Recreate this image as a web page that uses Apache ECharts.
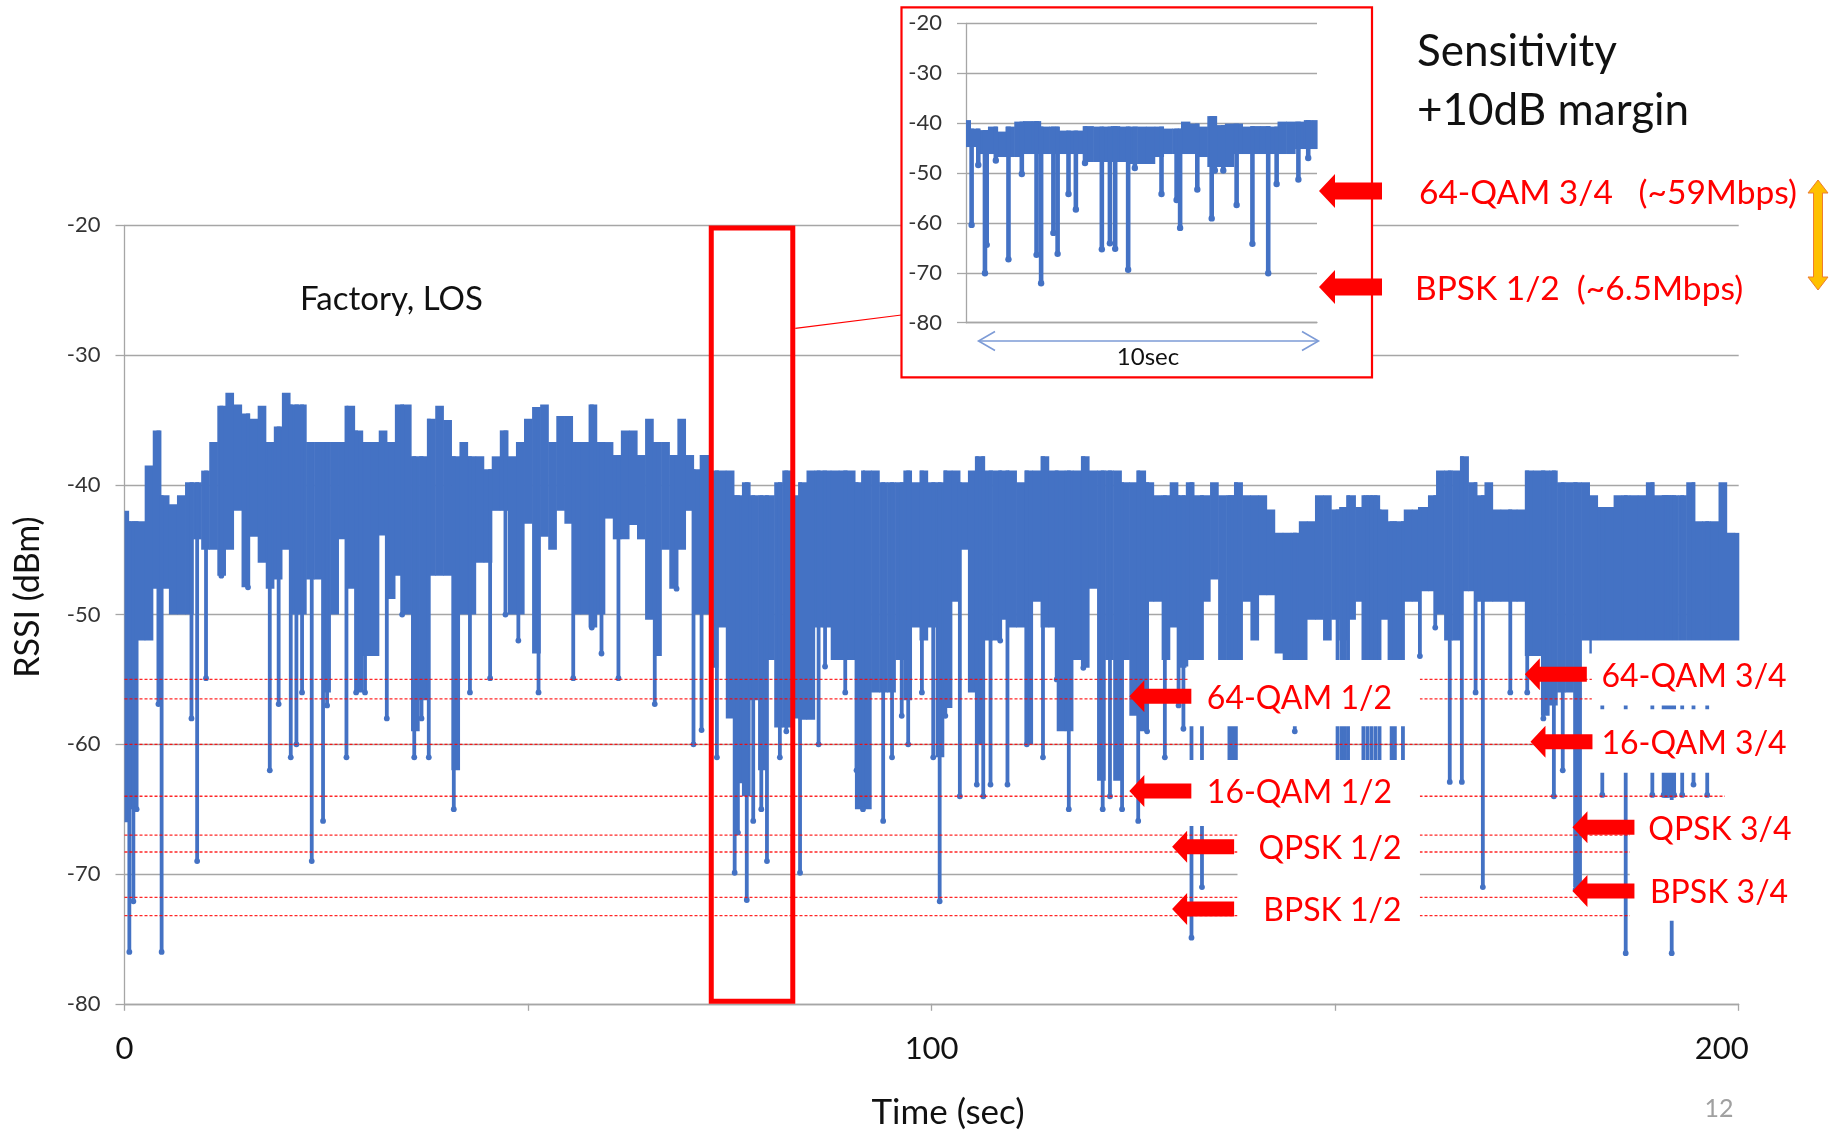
<!DOCTYPE html>
<html>
<head>
<meta charset="utf-8">
<script src="https://cdn.jsdelivr.net/npm/echarts@6/dist/echarts.min.js"></script>
<style>html,body{margin:0;padding:0;background:#fff}#c{width:1841px;height:1133px}</style>
</head>
<body>
<div id="c"></div>
<script>
// ---------------- data ----------------
const yTicks = [-80, -70, -60, -50, -40, -30, -20];
const xTickLabels = [0, 100, 200];

// main RSSI trace, 1-second bins (t = 0..200): upper edge of the dense trace
const mainTop = [
-42,-42.8,-42.8,-38.5,-35.8,-40.8,-41.5,-40.8,-39.8,-39.8,
-38.9,-36.7,-33.9,-32.9,-33.8,-34.5,-34.9,-33.9,-36.7,-35.5,
-32.9,-33.8,-33.8,-36.7,-36.7,-36.7,-36.7,-36.7,-33.9,-35.8,
-36.7,-36.7,-35.8,-36.7,-33.8,-33.8,-37.8,-37.8,-34.9,-33.9,
-35,-37.8,-36.7,-37.8,-37.8,-38.8,-37.8,-35.8,-37.8,-36.7,
-34.9,-34,-33.8,-36.7,-34.7,-34.7,-36.7,-36.7,-33.8,-36.7,
-36.7,-37.7,-35.8,-35.8,-37.7,-34.9,-36.7,-36.7,-37.7,-34.9,
-37.7,-38.8,-37.7,-38.9,-38.9,-38.9,-40.8,-39.8,-40.8,-40.8,
-40.8,-39.8,-38.9,-40.8,-39.8,-38.9,-38.9,-38.9,-38.9,-38.9,
-38.9,-39.8,-38.9,-38.9,-39.8,-39.8,-39.8,-38.9,-39.8,-38.9,
-39.8,-39.8,-38.9,-38.9,-39.8,-38.9,-37.8,-38.9,-38.9,-38.9,
-38.9,-39.8,-38.9,-38.9,-37.8,-38.9,-38.9,-38.9,-38.9,-37.8,
-38.9,-38.9,-38.9,-38.9,-39.8,-39.8,-38.9,-39.8,-40.8,-40.8,
-39.8,-40.8,-39.8,-40.8,-40.8,-39.8,-40.8,-40.8,-39.8,-40.8,
-40.8,-40.8,-41.9,-43.7,-43.7,-43.7,-42.8,-42.8,-40.8,-40.8,
-41.9,-41.7,-40.8,-41.7,-40.8,-40.8,-41.9,-42.8,-42.8,-41.9,
-41.9,-41.7,-40.8,-38.9,-38.9,-38.9,-37.8,-39.8,-40.8,-39.8,
-41.9,-41.9,-41.9,-41.9,-38.9,-38.9,-38.9,-38.9,-39.8,-39.8,
-39.8,-39.8,-40.8,-41.7,-41.7,-40.8,-40.8,-40.8,-40.8,-39.8,
-40.8,-40.8,-40.8,-40.8,-39.8,-42.8,-42.8,-42.8,-39.8,-43.7,
-43.7
];
// lower edge of the dense (solid) part of the trace, same bins
const mainBottom = [
-66,-65,-52,-52,-48,-48,-50,-50,-50,-44.2,
-45,-45,-47,-45,-42,-47.9,-44,-46,-48,-47.3,
-45,-50,-50,-47.3,-47.3,-56,-50,-44.2,-48,-56,
-53.2,-53.2,-43.9,-48.8,-47,-50,-59,-56.6,-47,-47,
-47,-62,-50,-50,-46,-46,-42,-42,-50,-50,
-43,-53,-44,-45,-42,-43,-50,-50,-51,-50,
-42.6,-44.2,-44.2,-43.1,-44.2,-50.4,-53.2,-45,-48,-45,
-42,-50,-50,-54.1,-51,-58,-63,-64,-56.6,-62,
-53.5,-58.7,-58.7,-58,-58.1,-58.1,-51,-51,-53.5,-53.5,
-53.5,-65,-65,-56,-56,-56,-53.5,-56.6,-51,-52,
-51,-61,-57.2,-49,-45,-56,-60,-52,-52,-50.4,
-51,-51,-60,-49,-51,-51,-59,-59,-53.5,-54.1,
-48,-62.8,-53.5,-62.8,-53.5,-57.8,-59,-49,-49,-53.5,
-51,-54.1,-54,-54,-49,-47.3,-54,-54,-54,-49,
-52,-48.5,-48.5,-53,-54,-54,-54,-50.4,-50.4,-52,
-50.4,-52,-50.4,-49,-54,-54,-50.4,-54,-54,-49,
-49,-48.2,-48.2,-50,-52,-52,-48.2,-48.2,-49,-49,
-49,-49,-49,-49,-53.2,-53.2,-57.8,-57,-56,-56,
-71,-52,-53,-53,-53,-53,-53,-53,-53,-53,
-53,-53,-53,-53,-53,-53,-53,-53,-53,-53,
-53
];
// individual deep drops of the main trace: [time (s), RSSI (dBm)]
const mainDips = [
[0.6,-76],[1.1,-72.1],[1.5,-65],[4.2,-56.9],[4.6,-76],[8.3,-58],[9.0,-69],[10.1,-54.9],[12.0,-47],[15.3,-47.9],
[18.0,-62],[19.1,-56.9],[20.6,-61],[21.3,-60],[22.0,-56],[23.2,-69],[24.6,-65.9],[25.1,-57],[27.5,-61],[28.7,-56],
[29.8,-56],[32.5,-58],[34.4,-50],[35.9,-61],[36.8,-58],[37.7,-61],[40.8,-65],[42.8,-56],[45.3,-54.9],[47.2,-50],
[48.8,-52],[51.3,-56],[55.6,-54.9],[57.9,-51],[59.1,-53],[61.2,-54.9],[65.7,-56.9],[68.4,-48],[70.5,-60],[71.5,-58.9],
[73.4,-61],[75.6,-69.9],[76.0,-66.8],[77.1,-72],[77.9,-65.9],[78.9,-65],[79.6,-69],[81.2,-61],[82.0,-59],[83.7,-69.9],
[86.0,-60],[86.8,-54],[89.3,-56],[90.7,-62],[91.5,-65],[94.0,-65.9],[95.1,-61],[96.3,-57.8],[97.1,-60],[98.8,-56],
[100.2,-61],[101.0,-72.1],[101.7,-57.8],[103.5,-64],[105.6,-63.1],[106.4,-64],[107.3,-63.1],[108.5,-52],[109.4,-63.1],[111.8,-60],
[113.8,-61],[115.5,-55],[117.0,-65],[118.8,-54.1],[121.2,-65],[122.1,-64],[123.6,-65],[125.6,-65.9],[126.7,-59],[128.9,-61],
[130.6,-57],[131.2,-58.8],[132.2,-74.9],[133.5,-71],[136.9,-61.5],[137.3,-61.5],[137.7,-61.5],[145.0,-59],[150.3,-61.5],[150.8,-61.5],
[151.2,-61.5],[151.6,-61.5],[153.5,-61.5],[154.0,-61.5],[154.5,-61.5],[155.0,-61.5],[155.5,-61.5],[157.0,-61.5],[157.4,-61.5],[158.4,-61.5],
[160.5,-53.2],[162.4,-51],[164.2,-62.9],[165.7,-62.9],[167.4,-56],[168.3,-71],[171.7,-56],[173.8,-56],[175.8,-58],[177.1,-64],
[178.2,-62],[179.8,-71.2],[183.1,-63.9],[186.0,-76.1],[189.3,-63.9],[190.7,-63.9],[190.9,-63.9],[191.1,-63.9],[191.3,-63.9],[191.7,-76.1],
[192.0,-63.9],[193.0,-63.9],[194.4,-63.1],[196.1,-63.9]
];

// inset (10 s excerpt), 0.25-second bins (t = 0..10)
const insetTop = [
-39.4,-41.1,-41.4,-40.7,-41.7,-40.7,-39.7,-39.6,-39.6,-40.7,
-40.7,-41.5,-41.5,-41.5,-40.6,-40.7,-40.7,-40.6,-40.7,-40.7,
-40.7,-40.7,-40.7,-41.1,-41.1,-39.7,-40.1,-40.7,-38.6,-40.4,
-40.1,-40.1,-40.7,-40.6,-40.6,-40.7,-39.7,-39.7,-39.7,-39.4,
-39.4
];
const insetBottom = [
-44.8,-44.8,-46.2,-46.2,-46.8,-46.8,-46.8,-46.2,-46.2,-46.2,
-46.2,-46.2,-46.2,-46.2,-47.8,-47.8,-47.8,-47.8,-47.8,-48.2,
-48.2,-48.2,-46.8,-46.2,-46.2,-46.2,-46.2,-46.8,-48.8,-48.8,
-48.8,-46.2,-46.2,-46.2,-46.2,-46.2,-46.2,-46.2,-45.2,-45.2,
-45.2
];
const insetDips = [
[0.16,-60.4],[0.35,-48.4],[0.54,-70.1],[0.59,-64.4],[0.85,-47.5],[1.21,-67.3],[1.59,-50.2],[2.01,-66.4],[2.14,-72.1],[2.49,-62],
[2.61,-66.2],[2.92,-54.2],[3.13,-57.3],[3.39,-48],[3.87,-65.3],[4.10,-64.1],[4.25,-65.2],[4.62,-69.4],[4.81,-49],[5.57,-54.2],
[6.00,-55.4],[6.10,-61],[6.59,-53.3],[7.00,-59.1],[7.09,-49.5],[7.33,-49.5],[7.71,-56.4],[8.16,-64.2],[8.61,-70.1],[8.85,-52.2],
[9.47,-51.3],[9.75,-47]
];

// sensitivity + 10 dB margin levels (dBm)
const sensLevels = [-55, -56.5, -60, -64, -67, -68.3, -71.8, -73.2];
const sensEnd = 198.3;

// ---------------- layout of annotations (not data) ----------------
const rateNotes = [
  { text: '64-QAM 1/2', tip: [124.5, -56.3], textT: 134.1 },
  { text: '16-QAM 1/2', tip: [124.5, -63.6], textT: 134.1 },
  { text: 'QPSK 1/2',   tip: [129.8, -67.9], textT: 140.5 },
  { text: 'BPSK 1/2',   tip: [129.8, -72.7], textT: 141.1 },
  { text: '64-QAM 3/4', tip: [173.5, -54.6], textT: 183.0 },
  { text: '16-QAM 3/4', tip: [174.2, -59.8], textT: 183.0 },
  { text: 'QPSK 3/4',   tip: [179.4, -66.4], textT: 188.8 },
  { text: 'BPSK 3/4',   tip: [179.4, -71.3], textT: 189.0 }
];
const maskBoxes = [
  [[131.8, -53.5], [160.5, -58.6]],
  [[131.8, -61.2], [160.5, -66.3]],
  [[137.9, -66.3], [160.5, -76.5]],
  [[181.8, -52.0], [206, -57.0]],
  [[181.8, -57.3], [206, -62.2]],
  [[186.5, -64.3], [206, -73.6]]
];

// ---------------- chart ----------------
const FONT = 'Lato, "Open Sans", "DejaVu Sans", sans-serif';
const BLUE = '#4472C4', RED = '#FF0000', GRIDC = '#A6A6A6';

const bandData = mainTop.map((v, i) => [i, v, mainBottom[i]]);
const dipData = mainDips.map(([t, v]) => [t, v, mainTop[Math.round(t)]]);
const insetBandData = insetTop.map((v, i) => [i * 0.25, v, insetBottom[i]]);
const insetDipData = insetDips.map(([t, v]) => [t, v, insetTop[Math.round(t / 0.25)]]);
const sensData = sensLevels.map(v => [0, sensEnd, v]);

function bandRender(step, xmin, xmax) {
  return function (params, api) {
    const t = api.value(0), hi = api.value(1), lo = api.value(2);
    const a = api.coord([Math.max(xmin, t - step / 2), hi]);
    const b = api.coord([Math.min(xmax, t + step / 2), lo]);
    return { type: 'rect', shape: { x: a[0], y: a[1], width: b[0] - a[0] + 0.6, height: b[1] - a[1] },
             style: { fill: BLUE } };
  };
}
function dipRender(lw, r) {
  return function (params, api) {
    const t = api.value(0), v = api.value(1), from = api.value(2);
    const a = api.coord([t, from]), b = api.coord([t, v]);
    return { type: 'group', children: [
      { type: 'line', shape: { x1: a[0], y1: a[1], x2: b[0], y2: b[1] }, style: { stroke: BLUE, lineWidth: lw } },
      { type: 'circle', shape: { cx: b[0], cy: b[1], r: r }, style: { fill: BLUE } }
    ]};
  };
}
function sensRender(params, api) {
  const a = api.coord([api.value(0), api.value(2)]);
  const b = api.coord([api.value(1), api.value(2)]);
  return { type: 'line', shape: { x1: a[0], y1: a[1], x2: b[0], y2: b[1] },
           style: { stroke: 'rgba(255,0,0,0.85)', lineWidth: 1.3, lineDash: [3, 2] } };
}

const chart = echarts.init(document.getElementById('c'));
const axisLabelY = { fontSize: 22, color: '#333', fontFamily: FONT, margin: 24 };
chart.setOption({
  animation: false,
  backgroundColor: '#fff',
  grid: [
    { left: 124.5, top: 225.4, width: 1614.2, height: 778.4 },
    { left: 966, top: 23.3, width: 351, height: 299.4 }
  ],
  xAxis: [
    { gridIndex: 0, type: 'value', min: 0, max: 200, interval: 50,
      axisLine: { lineStyle: { color: GRIDC, width: 1.3 } },
      axisTick: { show: true, length: 7, lineStyle: { color: GRIDC, width: 1.3 } },
      splitLine: { show: false },
      axisLabel: {
        formatter: v => !xTickLabels.includes(v) ? '' : (v === 200 ? '{r|200}' : String(v)),
        rich: { r: { fontSize: 31, color: '#111', fontFamily: FONT, padding: [0, 34, 0, 0] } },
        fontSize: 31, color: '#111', fontFamily: FONT, margin: 30 } },
    { gridIndex: 1, type: 'value', min: 0, max: 10, z: 3,
      axisLine: { lineStyle: { color: GRIDC, width: 1.3 } },
      axisTick: { show: false }, axisLabel: { show: false }, splitLine: { show: false } }
  ],
  yAxis: [
    { gridIndex: 0, type: 'value', min: yTicks[0], max: yTicks[yTicks.length - 1], interval: 10,
      axisLine: { show: true, lineStyle: { color: GRIDC, width: 1.3 } },
      axisTick: { show: true, length: 9, lineStyle: { color: GRIDC, width: 1.3 } },
      splitLine: { lineStyle: { color: GRIDC, width: 1.3 } },
      axisLabel: axisLabelY },
    { gridIndex: 1, type: 'value', min: yTicks[0], max: yTicks[yTicks.length - 1], interval: 10, z: 3,
      axisLine: { show: true, lineStyle: { color: GRIDC, width: 1.3 } },
      axisTick: { show: true, length: 9, lineStyle: { color: GRIDC, width: 1.3 } },
      splitLine: { lineStyle: { color: GRIDC, width: 1.3 } },
      axisLabel: axisLabelY }
  ],
  series: [
    { type: 'custom', name: 'RSSI', xAxisIndex: 0, yAxisIndex: 0, z: 2, silent: true,
      data: bandData, encode: { x: 0, y: [1, 2] }, renderItem: bandRender(1, 0, 200) },
    { type: 'custom', name: 'RSSI drops', xAxisIndex: 0, yAxisIndex: 0, z: 2, silent: true,
      data: dipData, encode: { x: 0, y: [1, 2] }, renderItem: dipRender(3.8, 2.9) },
    { type: 'custom', name: 'Sensitivity', xAxisIndex: 0, yAxisIndex: 0, z: 3, silent: true,
      data: sensData, encode: { x: [0, 1], y: 2 }, renderItem: sensRender },
    { type: 'custom', name: 'Inset RSSI', xAxisIndex: 1, yAxisIndex: 1, z: 4, silent: true,
      data: insetBandData, encode: { x: 0, y: [1, 2] }, renderItem: bandRender(0.25, 0, 10) },
    { type: 'custom', name: 'Inset drops', xAxisIndex: 1, yAxisIndex: 1, z: 4, silent: true,
      data: insetDipData, encode: { x: 0, y: [1, 2] }, renderItem: dipRender(4.6, 3.2) }
  ]
});

// ---------------- annotations ----------------
const P = (t, v) => chart.convertToPixel({ xAxisIndex: 0, yAxisIndex: 0 }, [t, v]);
function leftArrow(x, y, len, headLen, headH, shaftH, z) {
  return { type: 'polygon', z: z, silent: true,
    shape: { points: [[x, y], [x + headLen, y - headH], [x + headLen, y - shaftH], [x + len, y - shaftH],
                      [x + len, y + shaftH], [x + headLen, y + shaftH], [x + headLen, y + headH]] },
    style: { fill: RED } };
}
function txt(text, x, y, size, fill, align, extra) {
  return Object.assign({ type: 'text', z: 7, silent: true, x: x, y: y,
    style: { text: text, fill: fill, fontSize: size, fontFamily: FONT, align: align || 'left', verticalAlign: 'middle' } }, extra || {});
}
const g = [];
// inset background + frame
g.push({ type: 'rect', z: 1, silent: true, shape: { x: 901.5, y: 7.3, width: 470.5, height: 370 }, style: { fill: '#fff' } });
g.push({ type: 'rect', z: 7, silent: true, shape: { x: 901.5, y: 7.3, width: 470.5, height: 370 }, style: { fill: null, stroke: RED, lineWidth: 2.2 } });
// zoom rectangle on the main chart
const r1 = P(72.7, -20.2), r2 = P(82.8, -79.8);
g.push({ type: 'rect', z: 7, silent: true, shape: { x: r1[0], y: r1[1], width: r2[0] - r1[0], height: r2[1] - r1[1] },
         style: { fill: null, stroke: RED, lineWidth: 5 } });
g.push({ type: 'line', z: 7, silent: true, shape: { x1: r2[0] + 2.5, y1: 328.3, x2: 901.5, y2: 315 }, style: { stroke: RED, lineWidth: 1.2 } });
// 10 s span arrow in the inset
g.push({ type: 'line', z: 7, silent: true, shape: { x1: 979, y1: 341, x2: 1318, y2: 341 }, style: { stroke: '#7D9BD6', lineWidth: 1.6 } });
g.push({ type: 'polyline', z: 7, silent: true, shape: { points: [[995, 331.5], [978.5, 341], [995, 350.5]] }, style: { stroke: '#7D9BD6', lineWidth: 1.6, fill: null } });
g.push({ type: 'polyline', z: 7, silent: true, shape: { points: [[1302, 331.5], [1318.5, 341], [1302, 350.5]] }, style: { stroke: '#7D9BD6', lineWidth: 1.6, fill: null } });
g.push(txt('10sec', 1148, 357, 24, '#111', 'center'));
// white label boxes over the trace
maskBoxes.forEach(([a, b]) => {
  const p = P(a[0], a[1]), q = P(b[0], b[1]);
  g.push({ type: 'rect', z: 5, silent: true, shape: { x: p[0], y: p[1], width: q[0] - p[0], height: q[1] - p[1] }, style: { fill: '#fff' } });
});
// rate labels + arrows
rateNotes.forEach(n => {
  const tp = P(n.tip[0], n.tip[1]);
  g.push(leftArrow(tp[0], tp[1], 62, 15, 16, 7.5, 6));
  const tx = P(n.textT, n.tip[1]);
  g.push(txt(n.text, tx[0], tp[1] + 2, 32, RED, 'left'));
});
// top-right legend block
g.push(txt('Sensitivity', 1417, 52, 44, '#111', 'left'));
g.push(txt('+10dB margin', 1417, 111, 44, '#111', 'left'));
g.push(leftArrow(1319, 191, 63, 16, 17, 8.5, 7));
g.push(leftArrow(1319, 287, 63, 16, 17, 8.5, 7));
g.push(txt('64-QAM 3/4   (~59Mbps)', 1419, 193, 33.5, RED, 'left'));
g.push(txt('BPSK 1/2  (~6.5Mbps)', 1415, 289, 33.5, RED, 'left'));
g.push({ type: 'polygon', z: 7, silent: true,
  shape: { points: [[1818, 180], [1828, 193], [1822.5, 193], [1822.5, 277], [1828, 277], [1818, 290], [1808, 277], [1813.5, 277], [1813.5, 193], [1808, 193]] },
  style: { fill: '#FFC000', stroke: '#ED7D31', lineWidth: 1 } });
// titles
g.push(txt('Factory, LOS', 300, 299, 33, '#111', 'left'));
g.push(txt('Time (sec)', 948, 1113, 35, '#111', 'center'));
g.push(txt('RSSI (dBm)', 28, 597, 34, '#111', 'center', { rotation: Math.PI / 2 }));
g.push(txt('12', 1719, 1109, 25, '#A0A0A0', 'center'));
chart.setOption({ graphic: { elements: g } });
</script>
</body>
</html>
